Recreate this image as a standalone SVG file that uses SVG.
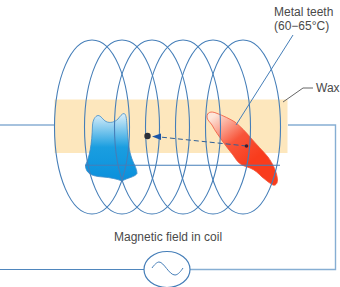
<svg xmlns="http://www.w3.org/2000/svg" width="340" height="287" viewBox="0 0 340 287">
<style>
.wire{fill:none;stroke:#4f86bd;stroke-width:1.1}
.coil{fill:none;stroke:#457eb8;stroke-width:1.1}
.lead{fill:none;stroke:#457eb8;stroke-width:1}
.label{font-family:"Liberation Sans",Arial,sans-serif;font-size:12px;fill:#4a4a4a}
</style>
<defs>
<linearGradient id="blueTooth" x1="0" y1="0" x2="0" y2="1">
<stop offset="0" stop-color="#dceffa"/><stop offset="0.5" stop-color="#1a9ee0"/><stop offset="1" stop-color="#0a90dc"/>
</linearGradient>
<linearGradient id="redTooth" x1="0.1" y1="0.05" x2="0.6" y2="0.7">
<stop offset="0" stop-color="#fde6da"/><stop offset="0.55" stop-color="#f8553a"/><stop offset="1" stop-color="#f93c1c"/>
</linearGradient>
<path id="turn" class="coil" d="M-37.500 0C-37.500 -49 -21 -87 0 -87C21 -87 37.500 -49 37.500 0C37.500 49 21 87 0 87C-21 87 -37.500 49 -37.500 0Z"/>
</defs>
<g id="wax"><rect x="54.500" y="99.500" width="233" height="53.500" fill="#fde7bd"/></g>
<g id="blue-tooth"><path d="M92.500 125C93 120 95 116 98 115.500C101 115.500 103 120 106 121.500C110 123.500 115 122 118 119C120 116.500 122 113.500 124 113.500C126 114 126.500 118 127 125C127.500 135 128.500 148 131 156C133 163 137 168 137 173.500C135 177 127 178 122 181C117 179 110 177.500 103 177C96 176.500 90 175.500 87 171C85.500 168 85 166 86 164C89 158 92 145 92.500 125Z" fill="url(#blueTooth)" stroke="#3f8cc8" stroke-width="0.8"/></g>
<g id="red-tooth"><path d="M207 117C207 112 211 111 216 113C224 116 230 119 235 122C241 127 246 132 250 137C256 144 263 151 268 157C273 164 277 172 277.500 180C277.500 184 275 186 273 185C269 183 266 180 262 177C258 173 255 170 250 168C247 167 244 166 242 165C238 163 235 158 233 155C229 150 226 146 223 142C219 136 215 131 212 125C210 122 207 120 207 117Z" fill="url(#redTooth)" stroke="#f0553a" stroke-width="0.8"/></g>
<g id="connectors">
<use href="#turn" x="92" y="127"/>
<use href="#turn" x="122" y="127"/>
<use href="#turn" x="152" y="127"/>
<use href="#turn" x="183" y="127"/>
<use href="#turn" x="213" y="127"/>
<use href="#turn" x="243" y="127"/>
<path class="coil" d="M85 165.300H280"/>
<path class="wire" d="M0 125H54.500"/>
<path d="M288 125H335.500V269.500H190" fill="none" stroke="#86aed3" stroke-width="1.400"/>
<path class="wire" d="M0 269.500H144.500"/>
<path d="M246.500 146L160 137" fill="none" stroke="#2f6098" stroke-width="1" stroke-dasharray="5 3"/>
<path d="M152 136.500L161 133.500V140Z" fill="#1a55a8"/>
<path class="lead" d="M293 35L236 125"/>
<path d="M283 102L303 88H313" fill="none" stroke="#666" stroke-width="1"/>
</g>
<g id="metal-point"><circle cx="147.500" cy="136" r="3.200" fill="#2b2f38"/><circle cx="246.500" cy="146" r="1.800" fill="#3a2030"/></g>
<g id="ac-source"><ellipse cx="167" cy="269.500" rx="23" ry="18" fill="#fff" stroke="#457eb8" stroke-width="1.200"/><path d="M152 268C154 265 157 262 159 262C164 262 169 275 175 275C178 275 181 271 183 268" fill="none" stroke="#457eb8" stroke-width="1"/></g>
<g id="labels">
<text class="label" x="274" y="16">Metal teeth</text>
<text class="label" x="274" y="30">(60−65°C)</text>
<text class="label" x="316" y="92">Wax</text>
<text class="label" x="114" y="241">Magnetic field in coil</text>
</g>
</svg>
